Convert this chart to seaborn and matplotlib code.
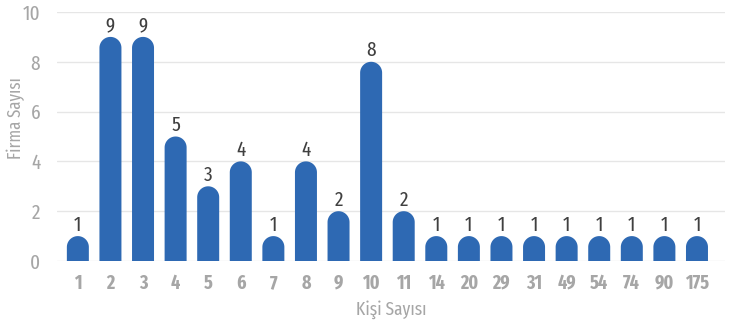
import numpy as np
import pandas as pd
import seaborn as sns
import matplotlib.pyplot as plt
from matplotlib.path import Path
from matplotlib.patches import PathPatch

# data
kisi_sayisi = ["1", "2", "3", "4", "5", "6", "7", "8", "9", "10",
               "11", "14", "20", "29", "31", "49", "54", "74", "90", "175"]
firma_sayisi = [1, 9, 9, 5, 3, 4, 1, 4, 2, 8, 2, 1, 1, 1, 1, 1, 1, 1, 1, 1]

df = pd.DataFrame({"Kişi Sayısı": kisi_sayisi, "Firma Sayısı": firma_sayisi})

sns.set_style("white")
plt.rcParams["font.family"] = ["Fira Sans Extra Condensed", "DejaVu Sans"]

bar_color = "#2e69b3"

fig = plt.figure(figsize=(7.3, 3.29), dpi=100)
ax = fig.add_axes([57 / 730, 68 / 329, 668 / 730, 249 / 329])

sns.barplot(data=df, x="Kişi Sayısı", y="Firma Sayısı", color=bar_color,
            saturation=1, width=0.675, ax=ax)

ax.set_ylim(0, 10)
ax.set_xlim(-0.64, 19.86)
ax.set_yticks([0, 2, 4, 6, 8, 10])
ax.yaxis.grid(True, color="#e6e6e6", linewidth=1)
ax.set_axisbelow(True)
for s in ax.spines.values():
    s.set_visible(False)

ax.tick_params(axis="y", length=0, pad=12, labelsize=15, labelcolor="#a6a6a6")
ax.tick_params(axis="x", length=0, pad=9, labelsize=14, labelcolor="#a6a6a6")
for lbl in ax.get_xticklabels():
    lbl.set_fontweight("bold")

ax.set_xlabel("Kişi Sayısı", fontsize=13.5, color="#a6a6a6", labelpad=5)
ax.set_ylabel("Firma Sayısı", fontsize=13, color="#a6a6a6")
ax.yaxis.set_label_coords(-0.048, 0.575)

ax.bar_label(ax.containers[0], fmt="%d", padding=1, fontsize=15, color="#404040")

# round the tops of the bars: semicircle in pixels, expressed in data units
px_x = ax.get_position().width * 730 / (ax.get_xlim()[1] - ax.get_xlim()[0])
px_y = ax.get_position().height * 329 / (ax.get_ylim()[1] - ax.get_ylim()[0])
theta = np.linspace(np.pi, 0, 40)
for p in list(ax.patches):
    x0, w, h = p.get_x(), p.get_width(), p.get_height()
    rx = w / 2
    ry = rx * px_x / px_y
    xc = x0 + rx
    yc = h - ry
    verts = [(x0, 0), (x0, yc)]
    verts += list(zip(xc + rx * np.cos(theta), yc + ry * np.sin(theta)))
    verts += [(x0 + w, 0), (x0, 0)]
    ax.add_patch(PathPatch(Path(verts, closed=True), facecolor=p.get_facecolor(),
                           edgecolor="none", zorder=p.get_zorder()))
    p.set_visible(False)

fig.savefig("out.png", dpi=100)
